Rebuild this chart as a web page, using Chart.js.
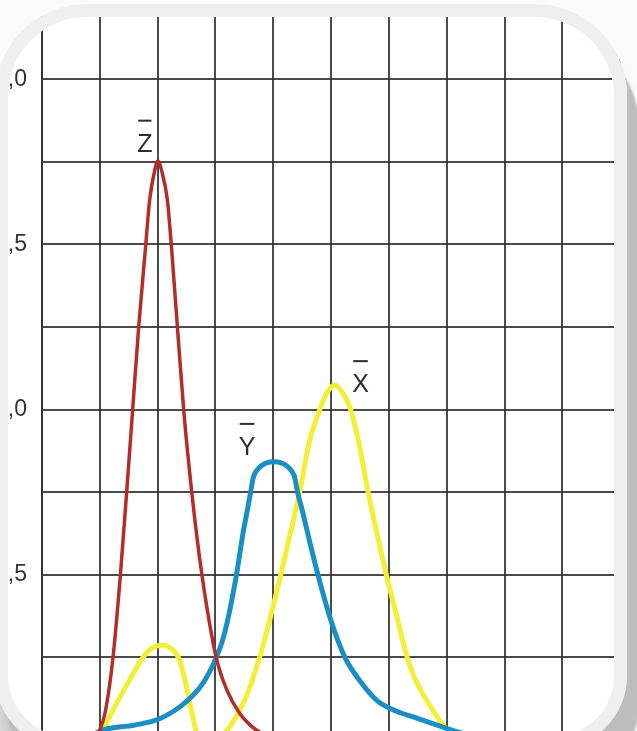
<!DOCTYPE html>
<html>
<head>
<meta charset="utf-8">
<script src="https://cdn.jsdelivr.net/npm/chart.js@4/dist/chart.umd.min.js"></script>
<style>
    html, body { margin: 0; padding: 0; overflow: hidden; background: #fbfbfb; }
    body { width: 637px; height: 731px; position: relative; }
    #wrap { position: absolute; left: 0; top: 0; width: 637px; height: 740px; background: #fff; }
    .frame {
        position: absolute; left: -5px; top: 4px; width: 632px; height: 746px;
        box-sizing: border-box; border: 13px solid #efefef;
        border-radius: 92px 92px 75px 75px;
        box-shadow: 12px 30px 2px 0 #bdbdbd, 0 40px 22px 0 rgba(0,0,0,0.22), 0 0 0 400px #fbfbfb;
        pointer-events: none; z-index: 2;
    }
</style>
</head>
<body>
<div id="wrap"><canvas id="chart" width="637" height="740"></canvas></div>
<div class="frame"></div>
<script>
// ===== Dữ liệu (bước sóng nm, giá trị) =====
const zNm  = [385, 395, 400, 405, 411.4, 417.8, 423.2, 428.4, 433.6, 439.5, 443.1, 447.5, 450.3, 453.3, 458.4, 462, 467.1, 472.5, 479.5, 488.3, 500.6, 510, 521, 530, 540, 555];
const zVal = [0, 0.008, 0.03, 0.09, 0.25, 0.5, 0.75, 1.0, 1.25, 1.49, 1.635, 1.725, 1.753, 1.725, 1.635, 1.49, 1.25, 1.0, 0.75, 0.5, 0.25, 0.15, 0.08, 0.045, 0.02, 0.003];

const yNm  = [390, 400, 430, 450, 465, 476, 486.4, 494, 500.8, 506, 510.6, 518.1, 524, 527.6, 530.4, 532.4, 533.8, 536.4, 540, 544.3, 550.6, 556.9, 561.2, 564.8, 567.4, 568.8, 571, 575, 581.5, 588.7, 599.7, 611.8, 624.7, 639.2, 656.5, 671, 700, 707, 730];
const yVal = [0.005, 0.027, 0.045, 0.062, 0.09, 0.12, 0.158, 0.2, 0.251, 0.3, 0.363, 0.499, 0.63, 0.696, 0.75, 0.79, 0.805, 0.819, 0.831, 0.839, 0.842, 0.839, 0.831, 0.819, 0.805, 0.79, 0.75, 0.696, 0.6, 0.499, 0.363, 0.251, 0.18, 0.121, 0.087, 0.07, 0.035, 0.027, 0.005];

const xNm  = [385, 395, 401.4, 414.3, 428.7, 437.3, 446, 454.6, 463.3, 469, 474.9, 479.2, 483.5, 492, 500, 509.5, 525.3, 538.3, 546.9, 556.4, 565, 572.8, 581, 590.2, 596, 603.1, 610.3, 617, 624, 632, 640, 647.8, 657.6, 662, 666.2, 672, 678, 685.3, 693, 700.9, 710, 725];
const xVal = [0, 0.008, 0.027, 0.11, 0.2, 0.25, 0.28, 0.287, 0.272, 0.242, 0.161, 0.09, 0.027, 0.006, 0.004, 0.027, 0.121, 0.251, 0.363, 0.499, 0.63, 0.75, 0.9, 1.0, 1.049, 1.075, 1.049, 1.0, 0.9, 0.75, 0.62, 0.499, 0.363, 0.3, 0.245, 0.19, 0.148, 0.105, 0.063, 0.03, 0.01, 0];

// lưới
const gridNm  = [350, 400, 450, 500, 550, 600, 650, 700, 750, 800, 850];
const gridVal = [0, 0.25, 0.5, 0.75, 1.0, 1.25, 1.5, 1.75, 2.0];

// nhãn đường cong (có gạch trên)
const curveNames = ["X", "Y", "Z"];
const labelNm    = [625.4, 527.3, 438.9];
const labelVal   = [1.053, 0.863, 1.781];

const gridColor = "rgba(50,50,50,0.88)";
const textFont = '25px "Liberation Sans", Arial, sans-serif';

function toPoints(nm, val) {
    return nm.map((n, i) => ({ x: n, y: val[i] }));
}

// bỏ padding tự động của trục để vùng vẽ khớp hình
function noPad(axis) {
    axis.paddingTop = 0;
    axis.paddingBottom = 0;
    axis.paddingLeft = 0;
    axis.paddingRight = 0;
}

// plugin vẽ nhãn X̄ Ȳ Z̄
const barLabels = {
    id: "barLabels",
    afterDatasetsDraw(chart) {
        const ctx = chart.ctx;
        const sx = chart.scales.x, sy = chart.scales.y;
        ctx.save();
        ctx.font = textFont;
        ctx.fillStyle = "#2e2e2e";
        ctx.strokeStyle = "#2e2e2e";
        ctx.lineWidth = 2;
        ctx.textAlign = "center";
        ctx.textBaseline = "alphabetic";
        curveNames.forEach((name, i) => {
            const px = sx.getPixelForValue(labelNm[i]);
            const py = sy.getPixelForValue(labelVal[i]);
            ctx.fillText(name, px, py);
            const w = ctx.measureText(name).width;
            ctx.beginPath();
            ctx.moveTo(px - w / 2 + 1, py - 31);
            ctx.lineTo(px + w / 2 - 1, py - 31);
            ctx.stroke();
        });
        ctx.restore();
    }
};

const lineOpts = { pointRadius: 0, fill: false, cubicInterpolationMode: "monotone", borderCapStyle: "round", borderJoinStyle: "round" };

new Chart(document.getElementById("chart"), {
    type: "line",
    data: {
        datasets: [
            { ...lineOpts, label: "z", data: toPoints(zNm, zVal), borderColor: "#b32d2a", borderWidth: 3.5 },
            { ...lineOpts, label: "y", data: toPoints(yNm, yVal), borderColor: "#1b8fc5", borderWidth: 5 },
            { ...lineOpts, label: "x", data: toPoints(xNm, xVal), borderColor: "#f3ee36", borderWidth: 5 }
        ]
    },
    options: {
        responsive: false,
        animation: false,
        layout: { padding: { top: 17, left: 0, right: 0, bottom: 0 } },
        plugins: { legend: { display: false }, tooltip: { enabled: false } },
        scales: {
            x: {
                type: "linear",
                min: 350,
                max: 864.5,
                afterBuildTicks: axis => { axis.ticks = gridNm.map(v => ({ value: v })); },
                afterFit: axis => { axis.height = 0; noPad(axis); },
                ticks: { display: false },
                grid: { color: gridColor, lineWidth: 2, drawTicks: false },
                border: { display: false }
            },
            y: {
                min: 0,
                max: 2.1886,
                afterBuildTicks: axis => { axis.ticks = gridVal.map(v => ({ value: v })); },
                afterFit: axis => { axis.width = 42; noPad(axis); },
                ticks: {
                    autoSkip: false,
                    padding: 15,
                    color: "#333",
                    font: { family: '"Liberation Sans", Arial, sans-serif', size: 23 },
                    callback: v => (v > 0 && Math.abs(v * 2 - Math.round(v * 2)) < 1e-6) ? v.toFixed(1).replace(".", ",") : ""
                },
                grid: { color: gridColor, lineWidth: 2, drawTicks: false },
                border: { display: true, color: gridColor, width: 2 }
            }
        }
    },
    plugins: [barLabels]
});
</script>
</body>
</html>
